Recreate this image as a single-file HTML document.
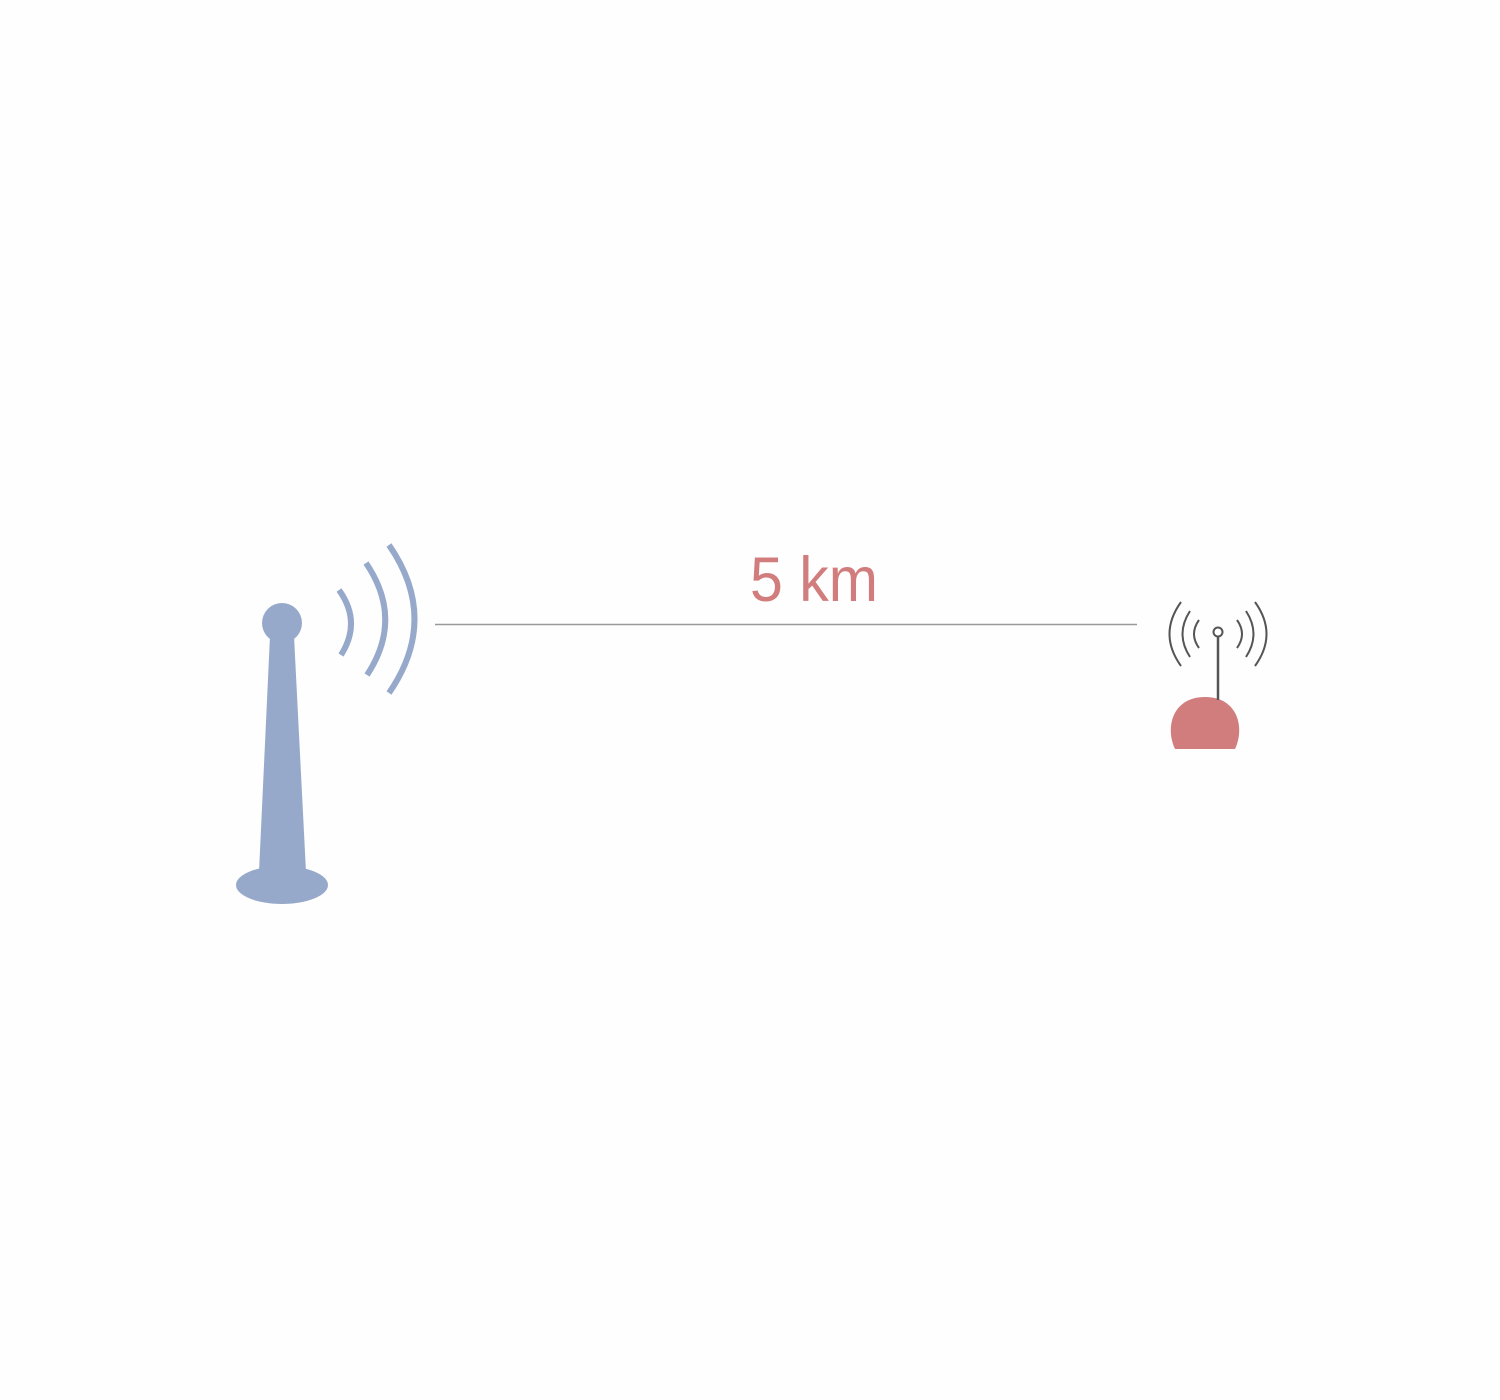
<!DOCTYPE html>
<html><head><meta charset="utf-8"><style>html,body{margin:0;padding:0;background:#fefefe;}svg{display:block}</style></head>
<body>
<svg width="1500" height="1400" viewBox="0 0 1500 1400" xmlns="http://www.w3.org/2000/svg">
<rect width="1500" height="1400" fill="#fefefe"/>
<!-- tower -->
<g fill="#97a9cb">
<circle cx="282" cy="623" r="20"/>
<polygon points="270,636 294,636 306,872 259,872"/>
<ellipse cx="282" cy="885" rx="46" ry="19"/>
</g>
<g fill="none" stroke="#97a9cb" stroke-width="6">
<path d="M339,590 Q362,622 341,655"/>
<path d="M366,563 Q404,619 367,675"/>
<path d="M389,545 Q440,619 389,693"/>
</g>
<!-- line -->
<line x1="435" y1="624.5" x2="1137" y2="624.5" stroke="#999" stroke-width="1.5"/>
<text x="750" y="601" font-family="Liberation Sans, sans-serif" font-size="63" fill="#d27d7d" textLength="128" lengthAdjust="spacingAndGlyphs">5 km</text>
<!-- device -->
<path d="M1175,749 C1165,728 1172,697 1205,697 C1238,697 1245,728 1235,749 Z" fill="#d27d7d"/>
<line x1="1218" y1="637" x2="1218" y2="700" stroke="#555" stroke-width="2.5"/>
<circle cx="1218" cy="632" r="4.5" fill="#fff" stroke="#555" stroke-width="2"/>
<g fill="none" stroke="#555" stroke-width="2">
<path d="M1199,620 Q1189,634 1199,648"/>
<path d="M1190,611 Q1175,634 1190,657"/>
<path d="M1181,602 Q1158,634 1181,666"/>
<path d="M1237,620 Q1247,634 1237,648"/>
<path d="M1246,611 Q1261,634 1246,657"/>
<path d="M1255,602 Q1278,634 1255,666"/>
</g>
</svg>
</body></html>
